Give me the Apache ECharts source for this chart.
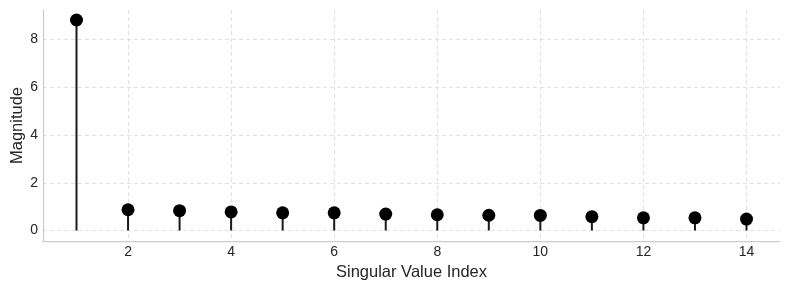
<!DOCTYPE html>
<html><head><meta charset="utf-8">
<script src="https://cdn.jsdelivr.net/npm/echarts@6/dist/echarts.min.js"></script>
<style>html,body{margin:0;padding:0;background:#fff}#c{width:790px;height:290px}</style>
</head><body><div id="c"></div>
<script>
const indices = [1,2,3,4,5,6,7,8,9,10,11,12,13,14];
const magnitudes = [8.82,0.87,0.83,0.78,0.74,0.74,0.69,0.66,0.64,0.63,0.58,0.53,0.53,0.48];
const xTicks = [2,4,6,8,10,12,14];
const yTicks = [0,2,4,6,8];

const pts = indices.map((x,i)=>[x, magnitudes[i]]);
const font = 'Liberation Sans, Arial, sans-serif';
const chart = echarts.init(document.getElementById('c'), null, {renderer:'canvas'});
chart.setOption({
  animation:false,
  grid:{left:43,right:10,top:10,bottom:49,containLabel:false,outerBoundsMode:'none'},
  xAxis:{type:'value',min:0.35,max:14.65,
    name:'Singular Value Index',nameLocation:'middle',nameGap:23,
    nameTextStyle:{fontFamily:font,fontSize:16.5,color:'#262626'},
    axisLine:{show:true,onZero:false,lineStyle:{color:'#cccccc',width:1.25}},
    axisTick:{show:false,customValues:xTicks},
    axisLabel:{customValues:xTicks,fontFamily:font,fontSize:14,color:'#262626',margin:4},
    splitLine:{show:true,lineStyle:{color:'#d9d9d9',type:[4,3],width:0.8}}
  },
  yAxis:{type:'value',min:-0.44,max:9.24,
    name:'Magnitude',nameLocation:'middle',nameGap:17,nameMoveOverlap:false,
    nameTextStyle:{fontFamily:font,fontSize:16.5,color:'#262626'},
    axisLine:{show:true,onZero:false,lineStyle:{color:'#cccccc',width:1.25}},
    axisTick:{show:false,customValues:yTicks},
    axisLabel:{customValues:yTicks,fontFamily:font,fontSize:14,color:'#262626',margin:5},
    splitLine:{show:true,lineStyle:{color:'#d9d9d9',type:[4,3],width:0.8}}
  },
  series:[
    {type:'bar',data:pts,barWidth:2,itemStyle:{color:'#1a1a1a'},silent:true},
    {type:'scatter',data:pts,symbolSize:13,itemStyle:{color:'#000000',opacity:1},z:5}
  ]
});
</script></body></html>
